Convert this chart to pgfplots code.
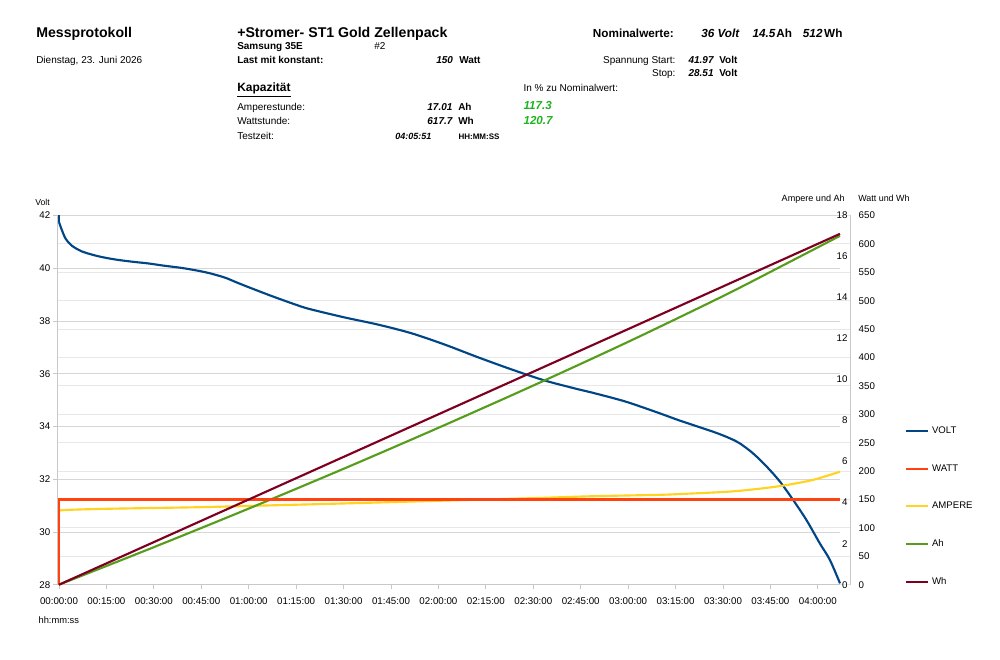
\documentclass[border=0pt]{standalone}
\usepackage{fontspec}
\setmainfont{Liberation Sans}
\usepackage{pgfplots}
\pgfplotsset{compat=1.18}
\definecolor{cvolt}{HTML}{004586}
\definecolor{cwatt}{HTML}{FF420E}
\definecolor{camp}{HTML}{FFD320}
\definecolor{cah}{HTML}{579D1C}
\definecolor{cwh}{HTML}{7E0021}
\definecolor{cgreen}{HTML}{1DB31D}
\definecolor{gridA}{HTML}{D6D6D6}
\definecolor{gridB}{HTML}{E8E8E8}
\definecolor{axl}{HTML}{C8C8C8}
\newcommand\fT{\fontsize{10.6}{12}\selectfont\bfseries}
\newcommand\fN{\fontsize{8.8}{10}\selectfont\bfseries}
\newcommand\fS{\fontsize{7.5}{9}\selectfont}
\newcommand\fK{\fontsize{7.3}{8.5}\selectfont}
\pgfplotsset{
  base/.style={at={(42.75pt,56.475pt)}, anchor=south west, scale only axis,
    width=587.25pt, height=276.9pt, xmin=-0.63, xmax=247, clip=false,
    tick label style={font=\fK}, /pgf/number format/assume math mode=true},
}
\begin{document}
\begin{tikzpicture}
\useasboundingbox (0,0) rectangle (750pt,495pt);

% Watt grid and labels
\begin{axis}[base, width=594.75pt, ymin=0, ymax=650, ytick={0,50,...,650},
  axis x line=none, axis y line*=right, y axis line style={draw=axl, line width=0.6pt},
  major tick length=0pt, ymajorgrids, grid style={draw=gridB, line width=0.6pt},
  yticklabel style={anchor=west, xshift=3pt}]
\addplot[draw=none] coordinates {(0,0)};
\end{axis}

% Volt axis
\begin{axis}[base, ymin=28, ymax=42, ytick={28,30,...,42},
  axis x line*=bottom, axis y line*=left,
  xtick={0,15,...,240},
  xticklabels={00:00:00,00:15:00,00:30:00,00:45:00,01:00:00,01:15:00,01:30:00,01:45:00,02:00:00,02:15:00,02:30:00,02:45:00,03:00:00,03:15:00,03:30:00,03:45:00,04:00:00},
  ymajorgrids, grid style={draw=gridA, line width=0.6pt},
  axis line style={draw=axl, line width=0.6pt}, tick style={draw=axl, line width=0.6pt},
  tick align=outside, major tick length=3pt,
  xticklabel style={yshift=-3pt}, yticklabel style={xshift=1.5pt}]
\addplot[cvolt, line width=1.6pt] coordinates {(0,42.0) (0,41.75)};
\addplot[cvolt, line width=1.6pt, smooth, tension=0.5] coordinates {
(0,41.75) (1,41.42) (2.1,41.12) (4,40.86) (7.4,40.63) (12.6,40.45)
(17.9,40.33) (23,40.25) (28.4,40.18) (33,40.1) (38.9,40.01) (44.2,39.9)
(48,39.8) (52.6,39.64) (56,39.47) (60,39.28) (67.4,38.94) (75.8,38.58)
(80,38.43) (90.5,38.13) (101,37.86) (111.6,37.53) (122.1,37.10) (132.6,36.62)
(143.2,36.16) (153.7,35.74) (164.2,35.41) (168.4,35.29) (179,34.95)
(189.5,34.52) (196.4,34.22) (206.9,33.80) (212,33.56) (215.3,33.36) (219.5,32.98)
(223.8,32.48) (228,31.91) (232.2,31.21) (236.4,30.45) (240.6,29.57)
(243.8,28.94) (247,28.05)};
\end{axis}

% Ampere axis
\begin{axis}[base, ymin=0, ymax=18, ytick={0,2,...,18},
  axis x line=none, axis y line*=right, y axis line style={draw=none},
  major tick length=0pt,
  yticklabel style={anchor=east, xshift=9.2pt}]
\addplot[camp, line width=1.6pt, smooth, tension=0.5] coordinates {
(0,3.62) (5,3.66) (15,3.70) (30,3.74) (45,3.78) (65,3.86) (90,3.96)
(122,4.10) (150,4.22) (168,4.31) (189.5,4.38) (196.4,4.42) (212.2,4.54)
(222.7,4.70) (230.1,4.86) (238.5,5.11) (247,5.51)};
\addplot[cah, line width=1.6pt, smooth, tension=0.5] coordinates {
(0,0) (30,1.83) (60,3.71) (90,5.65) (120,7.65) (150,9.71) (180,11.84)
(210,14.07) (230,15.65) (247,17.01)};
\end{axis}

% Watt plots + legend
\begin{axis}[base, ymin=0, ymax=650, hide axis,
  legend style={at={(1.083,0.435)}, anchor=north west, draw=none, fill=none,
    font=\fontsize{7.2}{8}\selectfont, row sep=17.6pt, inner sep=0pt},
  legend cell align=left,
  legend image code/.code={\draw[#1] (0pt,0pt) -- (16.5pt,0pt);}]
\addlegendimage{cvolt, line width=1.6pt}\addlegendentry{VOLT}
\addplot[cwatt, line width=1.6pt] coordinates {(0,0) (0,150) (247,150)};
\addlegendentry{WATT}
\addlegendimage{camp, line width=1.6pt}\addlegendentry{AMPERE}
\addlegendimage{cah, line width=1.6pt}\addlegendentry{Ah}
\addplot[cwh, line width=1.6pt] coordinates {(0,0) (60,150) (120,300) (180,450) (247,617.7)};
\addlegendentry{Wh}
\end{axis}

% texts
\begin{scope}[x=0.75pt,y=-0.75pt,shift={(0pt,495pt)}, every node/.style={inner sep=0pt}]
\node[anchor=base west, font=\fT] at (36,37.3) {Messprotokoll};
\node[anchor=base west, font=\fS] at (36,63.3) {Dienstag, 23. Juni 2026};
\node[anchor=base west, font=\fT] at (237,37.3) {+Stromer- ST1 Gold Zellenpack};
\node[anchor=base west, font=\fS\bfseries] at (237,50) {Samsung 35E};
\node[anchor=base west, font=\fS] at (374,50) {\#2};
\node[anchor=base west, font=\fS\bfseries] at (237,64) {Last mit konstant:};
\node[anchor=base east, font=\fS\bfseries\itshape] at (453.3,64) {150};
\node[anchor=base west, font=\fS\bfseries] at (459,64) {Watt};
\node[anchor=base west, font=\fontsize{9}{10}\selectfont\bfseries] at (237,91.7) {\underline{Kapazität}};
\node[anchor=base west, font=\fS] at (237,110.7) {Amperestunde:};
\node[anchor=base east, font=\fS\bfseries\itshape] at (452.7,110.7) {17.01};
\node[anchor=base west, font=\fS\bfseries] at (458,110.7) {Ah};
\node[anchor=base west, font=\fS] at (237,125) {Wattstunde:};
\node[anchor=base east, font=\fS\bfseries\itshape] at (452.7,125) {617.7};
\node[anchor=base west, font=\fS\bfseries] at (458,125) {Wh};
\node[anchor=base west, font=\fS] at (237,140) {Testzeit:};
\node[anchor=base east, font=\fontsize{6.75}{8}\selectfont\bfseries\itshape] at (431.7,140) {04:05:51};
\node[anchor=base west, font=\fontsize{6}{7}\selectfont\bfseries] at (458.3,140) {HH:MM:SS};
% right block
\node[anchor=base west, font=\fN] at (592.7,37.3) {Nominalwerte:};
\node[anchor=base west, font=\fN\itshape] at (701,37.3) {36 Volt};
\node[anchor=base west, font=\fN\itshape] at (752.3,37.3) {14.5};
\node[anchor=base east, font=\fN] at (792.3,37.3) {Ah};
\node[anchor=base west, font=\fN\itshape] at (802.7,37.3) {512};
\node[anchor=base east, font=\fN] at (842.7,37.3) {Wh};
\node[anchor=base east, font=\fS] at (675.7,64) {Spannung Start:};
\node[anchor=base west, font=\fS\bfseries\itshape] at (688.3,64) {41.97};
\node[anchor=base west, font=\fS\bfseries] at (719,64) {Volt};
\node[anchor=base east, font=\fS] at (675.7,76.7) {Stop:};
\node[anchor=base west, font=\fS\bfseries\itshape] at (688.3,76.7) {28.51};
\node[anchor=base west, font=\fS\bfseries] at (719,76.7) {Volt};
\node[anchor=base west, font=\fS] at (523.3,91.7) {In \% zu Nominalwert:};
\node[anchor=base west, font=\fontsize{8.7}{10}\selectfont\bfseries\itshape, text=cgreen] at (523.3,110) {117.3};
\node[anchor=base west, font=\fontsize{8.7}{10}\selectfont\bfseries\itshape, text=cgreen] at (523.3,125) {120.7};
% axis titles
\node[anchor=base west, font=\fontsize{6.5}{7}\selectfont] at (35,206) {Volt};
\node[anchor=base east, font=\fontsize{6.8}{7}\selectfont] at (845,201.7) {Ampere und Ah};
\node[anchor=base west, font=\fontsize{6.7}{7}\selectfont] at (858,201.7) {Watt und Wh};
\node[anchor=base west, font=\fontsize{7}{8}\selectfont] at (38.3,624) {hh:mm:ss};
\end{scope}
\end{tikzpicture}
\end{document}
